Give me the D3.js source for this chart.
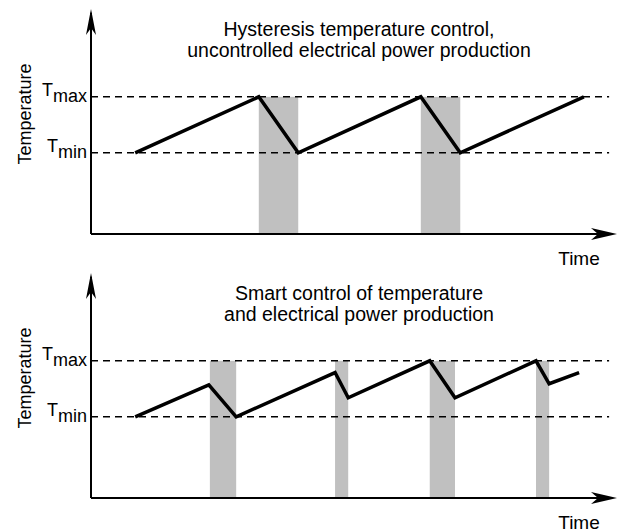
<!DOCTYPE html>
<html>
<head>
<meta charset="utf-8">
<script src="https://cdn.jsdelivr.net/npm/d3@7"></script>
<style>
body { margin: 0; background: #fff; }
text { font-family: "Liberation Sans", Arial, sans-serif; fill: #000; }
</style>
</head>
<body>
<script>
// temperature levels (arbitrary units, axis runs 0..40)
var tMin = 14.5;
var tMax = 24.5;

// panel 1: hysteresis control
var topTitle = ["Hysteresis temperature control,", "uncontrolled electrical power production"];
var topTime = [0.84, 3.19, 3.94, 6.27, 7.02, 9.37];
var topTemp = [14.5, 24.5, 14.5, 24.5, 14.5, 24.5];
var topBands = [[3.19, 3.94], [6.27, 7.02]];

// panel 2: smart control
var botTitle = ["Smart control of temperature", "and electrical power production"];
var botTime = [0.84, 2.24, 2.76, 4.64, 4.89, 6.44, 6.92, 8.46, 8.71, 9.28];
var botTemp = [14.5, 20.2, 14.5, 22.4, 17.9, 24.5, 17.9, 24.5, 20.4, 22.4];
var botBands = [[2.26, 2.76], [4.64, 4.89], [6.44, 6.92], [8.46, 8.71]];

var svg = d3.select("body").append("svg").attr("width", 624).attr("height", 532);

function drawPanel(offsetY, title, times, temps, bands){
	var g = svg.append("g").attr("transform", "translate(0," + offsetY + ")");
	var x = d3.scaleLinear().domain([0, 10]).range([91, 617]);
	var y = d3.scaleLinear().domain([0, 40]).range([234, 10]);

	// gray bands where power is produced
	g.selectAll("rect.band").data(bands).enter().append("rect")
		.attr("x", function(d){ return x(d[0]); })
		.attr("width", function(d){ return x(d[1]) - x(d[0]); })
		.attr("y", y(tMax))
		.attr("height", y(0) - y(tMax))
		.attr("fill", "#c0c0c0");

	// dashed limits
	[tMax, tMin].forEach(function(v){
		g.append("line")
			.attr("x1", x(0)).attr("x2", x(9.85))
			.attr("y1", y(v)).attr("y2", y(v))
			.attr("stroke", "#000").attr("stroke-width", 1.5)
			.attr("stroke-dasharray", "7,5");
	});

	// axes with arrows
	g.append("line").attr("x1", x(0)).attr("x2", x(0)).attr("y1", y(0)).attr("y2", y(39.5))
		.attr("stroke", "#000").attr("stroke-width", 2);
	g.append("line").attr("x1", x(0)).attr("x2", x(9.9)).attr("y1", y(0)).attr("y2", y(0))
		.attr("stroke", "#000").attr("stroke-width", 2);
	var ax = x(0), ay = y(40.2);
	g.append("path")
		.attr("d", "M" + ax + "," + ay + "L" + (ax + 5) + "," + (ay + 26) + "L" + ax + "," + (ay + 19) + "L" + (ax - 5) + "," + (ay + 26) + "Z")
		.attr("fill", "#000");
	var bx = x(10), by = y(0);
	g.append("path")
		.attr("d", "M" + bx + "," + by + "L" + (bx - 26) + "," + (by - 6) + "L" + (bx - 19) + "," + by + "L" + (bx - 26) + "," + (by + 6) + "Z")
		.attr("fill", "#000");

	// temperature curve
	var pts = times.map(function(t, i){ return [t, temps[i]]; });
	var line = d3.line().x(function(d){ return x(d[0]); }).y(function(d){ return y(d[1]); });
	g.append("path").datum(pts).attr("d", line)
		.attr("fill", "none").attr("stroke", "#000").attr("stroke-width", 3.5)
		.attr("stroke-linejoin", "miter");

	// T labels
	[["max", tMax], ["min", tMin]].forEach(function(l){
		var t = g.append("text").attr("x", 87).attr("y", y(l[1]) - 1)
			.attr("text-anchor", "end").style("font-size", "18px");
		t.append("tspan").text("T");
		t.append("tspan").attr("dy", 6).text(l[0]);
	});

	// titles
	title.forEach(function(s, i){
		g.append("text").attr("x", 359).attr("y", 36 + i * 21)
			.attr("text-anchor", "middle").style("font-size", "19.5px").text(s);
	});
	g.append("text").attr("x", 579).attr("y", 265)
		.attr("text-anchor", "middle").style("font-size", "19px").text("Time");
	g.append("text").attr("transform", "translate(31,114) rotate(-90)")
		.attr("text-anchor", "middle").style("font-size", "18px").text("Temperature");
}

drawPanel(0, topTitle, topTime, topTemp, topBands);
drawPanel(264, botTitle, botTime, botTemp, botBands);
</script>
</body>
</html>
